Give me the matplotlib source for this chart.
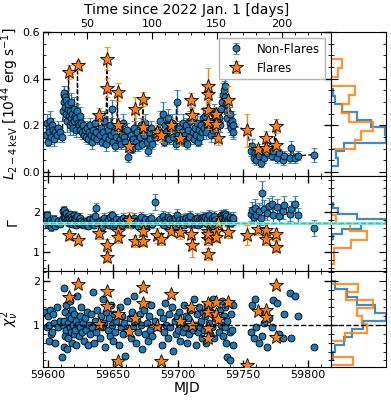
import numpy as np
import matplotlib
matplotlib.use("Agg")
import matplotlib.pyplot as plt
from matplotlib.ticker import MultipleLocator

# ---- non-flare points: MJD, L(2-4 keV), err, Gamma, err, reduced chi2
nf_mjd = [59598.5, 59599.1, 59599.7, 59600.3, 59600.9, 59601.5, 59602.1, 59602.8, 59603.5, 59604.3, 59605.4, 59606.6, 59607.7, 59608.8,
          59611.0, 59611.4, 59611.8, 59612.1, 59612.5, 59612.9, 59613.3, 59613.7, 59614.1, 59614.5, 59614.9, 59615.3, 59616.1, 59616.5,
          59616.9, 59617.3, 59617.8, 59618.2, 59618.7, 59619.2, 59619.7, 59620.2, 59620.7, 59621.2, 59621.8, 59622.2, 59623.0, 59623.6,
          59624.2, 59624.8, 59625.4, 59626.0, 59626.7, 59627.4,
          59628.2, 59629.0, 59629.8, 59630.6, 59631.4, 59632.2, 59633.0, 59633.8, 59634.6, 59635.4, 59636.2, 59637.0, 59637.8, 59639.6,
          59640.4, 59641.2, 59642.0, 59642.8, 59643.6, 59644.4, 59646.2, 59647.0, 59647.8, 59648.6, 59649.4, 59650.2, 59651.0, 59651.8,
          59652.6, 59654.4, 59655.2, 59656.0, 59656.8, 59657.6, 59658.4, 59659.2,
          59660.4, 59661.2, 59663.0, 59663.8, 59664.6, 59665.4, 59666.2, 59668.0, 59668.8, 59669.6, 59670.4, 59671.2, 59672.0, 59674.2,
          59675.0, 59675.8, 59676.6, 59677.4, 59678.2, 59679.0, 59679.8, 59682.6, 59685.0, 59686.0, 59688.0, 59688.8, 59689.6, 59690.4,
          59691.2, 59692.0, 59692.8, 59693.6, 59695.8, 59696.6, 59697.4, 59698.2, 59699.0, 59699.8,
          59700.8, 59701.6, 59703.0, 59703.8, 59704.6, 59705.4, 59706.2, 59707.0, 59707.8, 59708.6, 59709.4, 59711.4, 59712.2, 59713.0,
          59713.8, 59714.6, 59715.4, 59716.2, 59717.0, 59717.8, 59718.6, 59719.4,
          59720.2, 59721.0, 59721.8, 59722.4, 59723.8, 59724.6, 59725.4, 59726.2, 59727.0, 59727.8, 59728.6, 59731.8, 59732.6, 59733.4,
          59734.2, 59734.8, 59735.4, 59736.0, 59736.6, 59737.2, 59737.8, 59738.2, 59739.8, 59740.4, 59741.0, 59741.6, 59742.2, 59742.8,
          59756.5, 59757.3, 59758.3, 59759.2, 59760.0, 59762.8, 59763.8, 59765.2, 59766.4, 59769.0, 59770.2, 59772.4, 59773.6, 59776.8,
          59778.0, 59780.8, 59782.0, 59786.4, 59787.4, 59790.6, 59792.4, 59805.0]
nf_L = [0.16, 0.21, 0.13, 0.19, 0.17, 0.22, 0.15, 0.20, 0.18, 0.14, 0.17, 0.16, 0.19, 0.17,
        0.15, 0.26, 0.33, 0.34, 0.30, 0.32, 0.28, 0.25, 0.31, 0.22, 0.27, 0.29, 0.24, 0.20,
        0.26, 0.23, 0.30, 0.21, 0.25, 0.19, 0.27, 0.22, 0.24, 0.18, 0.23, 0.26, 0.21, 0.20,
        0.24, 0.18, 0.21, 0.17, 0.20, 0.16,
        0.18, 0.15, 0.19, 0.14, 0.17, 0.20, 0.16, 0.13, 0.18, 0.15, 0.21, 0.17, 0.14, 0.16,
        0.19, 0.13, 0.17, 0.22, 0.15, 0.12, 0.18, 0.14, 0.20, 0.16, 0.27, 0.13, 0.17, 0.11,
        0.15, 0.19, 0.14, 0.12, 0.16, 0.21, 0.15, 0.13,
        0.18, 0.064, 0.12, 0.16, 0.10, 0.14, 0.19, 0.13, 0.17, 0.11, 0.15, 0.20, 0.12, 0.16,
        0.21, 0.13, 0.09, 0.17, 0.14, 0.19, 0.12, 0.15, 0.18, 0.22, 0.16, 0.25, 0.13, 0.20,
        0.17, 0.23, 0.14, 0.19, 0.21, 0.15, 0.18, 0.12, 0.30, 0.16,
        0.19, 0.14, 0.17, 0.21, 0.13, 0.16, 0.20, 0.12, 0.18, 0.15, 0.22, 0.17, 0.14, 0.19,
        0.16, 0.21, 0.13, 0.18, 0.15, 0.20, 0.17, 0.23,
        0.19, 0.24, 0.17, 0.21, 0.26, 0.20, 0.16, 0.22, 0.18, 0.25, 0.19, 0.23, 0.20, 0.27,
        0.30, 0.33, 0.35, 0.37, 0.32, 0.29, 0.26, 0.23, 0.21, 0.25, 0.19, 0.22, 0.17, 0.20,
        0.09, 0.11, 0.06, 0.08, 0.05, 0.07, 0.04, 0.09, 0.06, 0.08, 0.10, 0.07, 0.09, 0.06,
        0.08, 0.05, 0.07, 0.06, 0.105, 0.06, 0.07, 0.075]
nf_Lerr = [0.03, 0.04, 0.02, 0.03, 0.02, 0.04, 0.03, 0.03, 0.02, 0.03, 0.02, 0.03, 0.03, 0.02,
           0.02, 0.04, 0.04, 0.03, 0.05, 0.03, 0.04, 0.03, 0.04, 0.05, 0.03, 0.04, 0.03, 0.04,
           0.03, 0.05, 0.04, 0.03, 0.04, 0.03, 0.05, 0.03, 0.04, 0.03, 0.04, 0.03, 0.04, 0.03,
           0.04, 0.03, 0.04, 0.03, 0.03, 0.02,
           0.03, 0.02, 0.03, 0.02, 0.03, 0.03, 0.02, 0.03, 0.03, 0.02, 0.04, 0.03, 0.02, 0.03,
           0.03, 0.02, 0.03, 0.04, 0.02, 0.03, 0.03, 0.02, 0.03, 0.03, 0.04, 0.02, 0.03, 0.02,
           0.03, 0.03, 0.02, 0.02, 0.03, 0.04, 0.02, 0.03,
           0.03, 0.02, 0.02, 0.03, 0.02, 0.03, 0.03, 0.02, 0.03, 0.02, 0.03, 0.03, 0.02, 0.03,
           0.04, 0.02, 0.02, 0.03, 0.03, 0.03, 0.02, 0.03, 0.03, 0.04, 0.03, 0.05, 0.02, 0.04,
           0.03, 0.04, 0.02, 0.03, 0.04, 0.03, 0.03, 0.02, 0.05, 0.03,
           0.03, 0.02, 0.03, 0.04, 0.02, 0.03, 0.03, 0.02, 0.03, 0.03, 0.04, 0.03, 0.02, 0.03,
           0.03, 0.04, 0.02, 0.03, 0.03, 0.04, 0.03, 0.04,
           0.03, 0.04, 0.03, 0.04, 0.05, 0.03, 0.03, 0.04, 0.03, 0.04, 0.03, 0.04, 0.03, 0.05,
           0.04, 0.05, 0.04, 0.05, 0.04, 0.04, 0.03, 0.04, 0.04, 0.03, 0.03, 0.04, 0.03, 0.05,
           0.02, 0.03, 0.02, 0.02, 0.02, 0.02, 0.02, 0.02, 0.02, 0.02, 0.03, 0.02, 0.02, 0.02,
           0.02, 0.02, 0.02, 0.02, 0.03, 0.02, 0.02, 0.03]
nf_G = [1.85, 1.92, 1.68, 1.78, 1.72, 1.80, 1.62, 1.75, 1.70, 1.82, 1.66, 1.74, 1.78, 1.71,
        1.80, 2.02, 1.95, 1.88, 2.05, 1.92, 1.85, 1.78, 1.98, 1.82, 1.90, 1.75, 1.86, 1.72,
        1.95, 1.80, 1.88, 1.70, 1.84, 1.76, 1.92, 1.78, 1.85, 1.68, 1.82, 1.90, 1.74, 1.80,
        1.86, 1.72, 1.78, 1.70, 1.76, 1.68,
        1.74, 1.70, 1.78, 1.66, 1.80, 1.84, 1.72, 1.76, 1.82, 1.68, 1.90, 2.10, 1.74, 1.78,
        1.70, 1.64, 1.80, 1.86, 1.72, 1.76, 1.82, 1.68, 1.88, 1.74, 1.92, 1.66, 1.78, 1.70,
        1.84, 1.76, 1.72, 1.80, 1.68, 1.86, 1.74, 1.78,
        1.82, 1.70, 1.76, 1.68, 1.80, 1.74, 1.86, 1.72, 1.78, 1.66, 1.82, 1.88, 1.70, 1.76,
        1.84, 1.68, 1.74, 1.80, 1.72, 1.86, 1.70, 2.25, 1.78, 1.84, 1.72, 1.90, 1.68, 1.80,
        1.76, 1.88, 1.70, 1.82, 1.78, 1.72, 1.86, 1.66, 1.94, 1.74,
        1.80, 1.70, 1.76, 1.84, 1.68, 1.78, 1.86, 1.72, 1.80, 1.74, 1.90, 1.76, 1.70, 1.82,
        1.74, 1.86, 1.68, 1.80, 1.72, 1.84, 1.78, 1.88,
        1.80, 1.88, 1.74, 1.82, 1.92, 1.78, 1.70, 1.86, 1.76, 1.90, 1.80, 1.84, 1.78, 1.92,
        1.86, 1.94, 1.88, 1.96, 1.84, 1.90, 1.80, 1.76, 1.82, 1.88, 1.74, 1.84, 1.78, 1.86,
        1.95, 2.05, 1.88, 2.10, 1.92, 2.02, 1.85, 2.49, 2.08, 1.98, 2.15, 2.20, 1.94, 2.12,
        1.90, 2.02, 2.18, 1.96, 2.08, 2.20, 1.92, 1.60]
nf_Gerr = [0.10, 0.12, 0.08, 0.10, 0.09, 0.12, 0.08, 0.10, 0.09, 0.12, 0.08, 0.10, 0.11, 0.09,
           0.10, 0.12, 0.09, 0.08, 0.11, 0.09, 0.10, 0.08, 0.10, 0.12, 0.09, 0.10, 0.08, 0.10,
           0.09, 0.12, 0.10, 0.08, 0.09, 0.10, 0.11, 0.09, 0.10, 0.08, 0.10, 0.09, 0.10, 0.09,
           0.11, 0.08, 0.10, 0.09, 0.10, 0.08,
           0.10, 0.09, 0.11, 0.08, 0.10, 0.12, 0.09, 0.10, 0.11, 0.08, 0.12, 0.14, 0.09, 0.10,
           0.09, 0.08, 0.11, 0.12, 0.09, 0.10, 0.10, 0.08, 0.12, 0.09, 0.12, 0.08, 0.10, 0.09,
           0.11, 0.10, 0.09, 0.11, 0.08, 0.12, 0.09, 0.10,
           0.11, 0.10, 0.10, 0.08, 0.11, 0.09, 0.12, 0.09, 0.10, 0.08, 0.11, 0.12, 0.09, 0.10,
           0.12, 0.08, 0.10, 0.11, 0.09, 0.12, 0.09, 0.20, 0.10, 0.12, 0.09, 0.12, 0.08, 0.11,
           0.10, 0.12, 0.09, 0.11, 0.10, 0.09, 0.12, 0.08, 0.13, 0.10,
           0.11, 0.09, 0.10, 0.12, 0.08, 0.10, 0.12, 0.09, 0.11, 0.10, 0.13, 0.10, 0.09, 0.11,
           0.10, 0.12, 0.08, 0.11, 0.09, 0.12, 0.10, 0.12,
           0.11, 0.12, 0.10, 0.11, 0.13, 0.10, 0.09, 0.12, 0.10, 0.12, 0.11, 0.12, 0.10, 0.13,
           0.11, 0.12, 0.10, 0.12, 0.11, 0.12, 0.10, 0.10, 0.11, 0.12, 0.10, 0.12, 0.10, 0.14,
           0.18, 0.20, 0.16, 0.22, 0.18, 0.20, 0.16, 0.30, 0.22, 0.18, 0.22, 0.20, 0.18, 0.20,
           0.17, 0.19, 0.22, 0.18, 0.20, 0.22, 0.18, 0.20]
nf_chi = [1.30, 0.95, 1.20, 1.00, 0.65, 1.35, 0.80, 0.85, 1.25, 1.05, 0.60, 1.40, 0.95, 1.10,
          0.28, 1.00, 1.85, 0.50, 1.10, 0.75, 1.30, 0.90, 1.45, 0.45, 1.05, 0.70, 1.20, 0.95,
          1.55, 0.85, 1.15, 0.60, 1.35, 1.00, 0.80, 1.25, 0.90, 1.10, 0.55, 1.65, 1.00, 0.75,
          1.20, 0.95, 1.40, 0.85, 1.05, 0.65,
          1.15, 0.90, 1.30, 0.55, 1.00, 0.80, 1.25, 0.95, 1.75, 0.60, 1.10, 0.85, 1.35, 0.70,
          1.20, 0.95, 1.60, 1.05, 0.50, 1.30, 0.90, 1.15, 0.75, 1.45, 1.00, 0.65, 1.25, 0.85,
          1.10, 0.55, 1.40, 0.95, 1.20, 0.80, 1.05, 0.30,
          1.55, 0.90, 1.15, 0.70, 1.30, 0.95, 1.65, 0.60, 1.10, 0.85, 1.25, 1.00, 0.45, 1.35,
          0.80, 1.05, 0.65, 1.20, 0.90, 1.45, 0.75, 1.10, 0.95, 1.30, 0.55, 1.15, 0.85, 1.50,
          1.00, 0.70, 1.25, 0.95, 1.40, 0.42, 1.10, 0.80, 1.20, 0.90,
          1.30, 0.65, 1.05, 0.85, 1.45, 0.95, 1.20, 0.60, 1.15, 0.80, 1.35, 0.90, 1.60, 1.00,
          0.55, 1.25, 0.85, 1.40, 0.95, 1.10, 0.70, 1.30,
          0.90, 1.20, 0.60, 1.45, 1.05, 0.80, 1.30, 0.95, 1.60, 0.70, 1.15, 0.85, 1.35, 1.00,
          1.55, 0.75, 1.20, 0.95, 1.40, 0.60, 1.10, 0.28, 0.85, 0.21, 1.25, 0.90, 1.45, 0.55,
          0.85, 1.45, 0.70, 1.60, 0.95, 0.60, 1.30, 0.75, 1.05, 0.50, 1.15, 0.96, 1.56, 1.50,
          0.80, 0.70, 1.26, 1.72, 0.71, 1.65, 1.20, 0.50]

# ---- flare points
fl_mjd = [59615.7, 59622.6, 59638.8, 59645.3, 59645.4, 59653.5, 59653.6, 59662.0, 59667.2, 59673.1, 59673.2,
          59684.0, 59686.8, 59694.7, 59702.0, 59710.4, 59710.5, 59723.0, 59723.1, 59723.2, 59723.3, 59729.5,
          59729.6, 59730.7, 59739.0, 59753.4, 59761.6, 59767.6, 59767.7, 59775.3, 59775.4]
fl_L = [0.430, 0.457, 0.243, 0.486, 0.362, 0.343, 0.200, 0.110, 0.270, 0.315, 0.193,
        0.170, 0.157, 0.200, 0.145, 0.310, 0.243, 0.367, 0.336, 0.264, 0.214, 0.247,
        0.207, 0.147, 0.310, 0.179, 0.100, 0.147, 0.103, 0.196, 0.114]
fl_Lerr = [0.03, 0.02, 0.03, 0.05, 0.04, 0.04, 0.03, 0.02, 0.05, 0.03, 0.03,
           0.03, 0.03, 0.03, 0.03, 0.03, 0.03, 0.08, 0.04, 0.04, 0.03, 0.03,
           0.03, 0.03, 0.06, 0.07, 0.02, 0.03, 0.02, 0.03, 0.02]
fl_G = [1.42, 1.31, 1.48, 1.17, 0.875, 1.54, 1.37, 1.81, 1.29, 1.54, 1.29,
        1.42, 1.33, 1.54, 1.50, 1.46, 1.17, 1.54, 1.33, 0.96, 1.45, 1.54,
        1.39, 1.72, 1.50, 1.44, 1.58, 1.56, 1.33, 1.46, 1.14]
fl_Gerr = [0.12, 0.10, 0.15, 0.15, 0.12, 0.16, 0.15, 0.20, 0.15, 0.14, 0.14,
           0.18, 0.16, 0.12, 0.16, 0.14, 0.30, 0.14, 0.14, 0.15, 0.12, 0.14,
           0.13, 0.15, 0.14, 0.25, 0.14, 0.16, 0.15, 0.15, 0.14]
fl_chi = [1.63, 1.93, 1.02, 1.77, 1.43, 1.25, 0.19, 0.87, 1.15, 1.86, 1.49,
          0.98, 0.19, 1.70, 1.09, 1.41, 1.00, 1.49, 0.93, 0.70, 1.30, 1.26,
          1.53, 1.13, 1.53, 0.10, 1.32, 1.34, 1.19, 1.90, 0.72]

# ---- side histograms (bin edges, normalised heights)
hL_nf_edges = np.linspace(0.025, 0.357, 11)
hL_nf = [0.13, 0.10, 0.23, 1.00, 0.98, 0.72, 0.48, 0.21, 0.07, 0.04]
hL_fl_edges = np.linspace(0.100, 0.486, 11)
hL_fl = [0.43, 0.54, 0.77, 0.33, 0.21, 0.33, 0.43, 0.0, 0.12, 0.21]
hG_nf_edges = [1.335, 1.46, 1.585, 1.71, 1.82, 1.96, 2.10, 2.235]
hG_nf = [0.03, 0.20, 0.55, 1.00, 0.47, 0.13, 0.03]
hG_fl_edges = [0.71, 0.91, 1.11, 1.31, 1.52, 1.71, 1.92]
hG_fl = [0.05, 0.05, 0.36, 0.65, 0.35, 0.10]
hC_nf_edges = np.linspace(0.2, 2.0, 11)
hC_nf = [0.03, 0.08, 0.23, 0.38, 0.58, 1.00, 0.80, 0.48, 0.30, 0.08]
hC_fl_edges = np.linspace(0.1, 1.93, 11)
hC_fl = [0.40, 0.0, 0.0, 0.25, 0.66, 0.56, 0.48, 0.76, 0.28, 0.50]

gamma_mean = 1.72

plt.rcParams['font.size'] = 8
plt.rcParams['xtick.direction'] = 'in'
plt.rcParams['ytick.direction'] = 'in'

fig = plt.figure(figsize=(3.91, 4.0), dpi=100)
gs = fig.add_gridspec(3, 2, height_ratios=[1.5, 1, 1], width_ratios=[288, 55],
                      left=0.110, right=0.987, top=0.92, bottom=0.0825, hspace=0, wspace=0)
ax1 = fig.add_subplot(gs[0, 0])
ax2 = fig.add_subplot(gs[1, 0], sharex=ax1)
ax3 = fig.add_subplot(gs[2, 0], sharex=ax1)
h1 = fig.add_subplot(gs[0, 1], sharey=ax1)
h2 = fig.add_subplot(gs[1, 1], sharey=ax2)
h3 = fig.add_subplot(gs[2, 1], sharey=ax3)

blue, orange = 'C0', 'C1'
nf_style = dict(fmt='o', color=blue, mec='k', mew=0.6, ms=5, ecolor=blue, elinewidth=1, capsize=2, alpha=0.95)
fl_style = dict(fmt='*', color=orange, mec='k', mew=0.6, ms=10, ecolor=orange, elinewidth=1, capsize=2)

# light curve, all points joined in time order
all_mjd = np.concatenate([nf_mjd, fl_mjd])
all_L = np.concatenate([nf_L, fl_L])
order = np.argsort(all_mjd)
ax1.plot(all_mjd[order], all_L[order], 'k--', lw=0.9, zorder=1)
ax1.errorbar(nf_mjd, nf_L, yerr=nf_Lerr, label='Non-Flares', zorder=2, **nf_style)
ax1.errorbar(fl_mjd, fl_L, yerr=fl_Lerr, label='Flares', zorder=3, **fl_style)
ax1.legend(loc='upper right', fontsize=8.5, framealpha=1, edgecolor='0.7', fancybox=False)

ax2.errorbar(nf_mjd, nf_G, yerr=nf_Gerr, zorder=2, **nf_style)
ax2.errorbar(fl_mjd, fl_G, yerr=fl_Gerr, zorder=3, **fl_style)
for a in (ax2, h2):
    a.axhline(gamma_mean, color='#8fe8d4', lw=2.2, zorder=4)
    a.axhline(gamma_mean, color='#2fc4a2', lw=1, ls='--', zorder=4)

ax3.plot(nf_mjd, nf_chi, 'o', color=blue, mec='k', mew=0.6, ms=5, zorder=2)
ax3.plot(fl_mjd, fl_chi, '*', color=orange, mec='k', mew=0.6, ms=10, zorder=3)
for a in (ax3, h3):
    a.axhline(1.0, color='k', ls='--', lw=1, zorder=4)

# side histograms
for a, vals, edges, c in [(h1, hL_nf, hL_nf_edges, blue), (h1, hL_fl, hL_fl_edges, orange),
                          (h2, hG_nf, hG_nf_edges, blue), (h2, hG_fl, hG_fl_edges, orange),
                          (h3, hC_nf, hC_nf_edges, blue), (h3, hC_fl, hC_fl_edges, orange)]:
    a.stairs(vals, edges, orientation='horizontal', baseline=0, color=c, lw=1.6, alpha=0.85)

ax1.set_xlim(59596, 59818)
ax1.set_ylim(-0.015, 0.6)
ax2.set_ylim(0.52, 2.92)
ax3.set_ylim(0.05, 2.22)

ax1.yaxis.set_major_locator(MultipleLocator(0.2))
ax1.yaxis.set_minor_locator(MultipleLocator(0.05))
ax2.yaxis.set_major_locator(MultipleLocator(1))
ax2.yaxis.set_minor_locator(MultipleLocator(0.2))
ax3.yaxis.set_major_locator(MultipleLocator(1))
ax3.yaxis.set_minor_locator(MultipleLocator(0.2))
ax3.xaxis.set_major_locator(MultipleLocator(50))
ax3.xaxis.set_minor_locator(MultipleLocator(10))

for a in (ax1, ax2, ax3):
    a.tick_params(which='both', top=True, right=True, pad=2)
    a.tick_params(which='major', length=5, width=1)
    a.tick_params(which='minor', length=2.5)
for a in (ax1, ax2):
    a.tick_params(labelbottom=False)
ax1.tick_params(top=False, which='both')

for h in (h1, h2, h3):
    h.set_xlim(0, 1)
    h.tick_params(which='both', left=True, right=True, labelleft=False, bottom=False, labelbottom=False)
    h.tick_params(which='major', length=5)
    h.tick_params(which='minor', length=2.5)

sec = ax1.secondary_xaxis('top', functions=(lambda x: x - 59580, lambda x: x + 59580))
sec.xaxis.set_major_locator(MultipleLocator(50))
sec.xaxis.set_minor_locator(MultipleLocator(10))
sec.tick_params(which='major', direction='in', length=5, pad=2)
sec.tick_params(which='minor', direction='in', length=2.5)
sec.set_xlabel('Time since 2022 Jan. 1 [days]', fontsize=10)

ax1.set_ylabel(r'$L_{2-4\,\mathrm{keV}}$ [$10^{44}$ erg s$^{-1}$]', fontsize=10, labelpad=1)
ax2.set_ylabel(r'$\Gamma$', fontsize=10, labelpad=1)
ax3.set_ylabel(r'$\chi^2_\nu$', fontsize=10, labelpad=1)
ax3.set_xlabel('MJD', fontsize=10, labelpad=1)
fig.align_ylabels([ax1, ax2, ax3])

fig.savefig('out.png', dpi=100)
